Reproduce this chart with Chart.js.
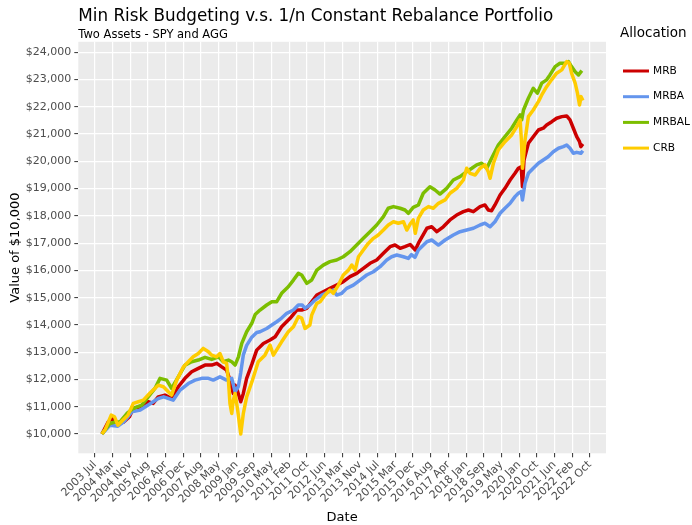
<!DOCTYPE html>
<html>
<head>
<meta charset="utf-8">
<title>Min Risk Budgeting v.s. 1/n Constant Rebalance Portfolio</title>
<script src="https://cdn.jsdelivr.net/npm/chart.js@4.4.1/dist/chart.umd.min.js"></script>
<style>
  html, body { margin: 0; padding: 0; background: #ffffff; }
  #wrap { width: 692px; height: 525px; }
</style>
</head>
<body>
<div id="wrap"><canvas id="portfolioChart" width="692" height="525"></canvas></div>
<script>
// --- data: [decimal year, value of $10,000] ---
const mrb = [
  [2003.81, 10000], [2004.05, 10440], [2004.20, 10570], [2004.43, 10385], [2004.66, 10440], [2004.88, 10630],
  [2005.03, 10940], [2005.30, 10995], [2005.61, 11180], [2005.80, 11120], [2006.00, 11360], [2006.26, 11425],
  [2006.52, 11300], [2006.78, 11730], [2007.04, 12040], [2007.30, 12280], [2007.56, 12405], [2007.82, 12525],
  [2008.08, 12525], [2008.28, 12590], [2008.47, 12460], [2008.66, 12340], [2008.79, 11975], [2008.92, 11485],
  [2008.99, 11790], [2009.07, 11610], [2009.21, 11180], [2009.31, 11485], [2009.44, 12040], [2009.64, 12550],
  [2009.83, 13075], [2010.09, 13320], [2010.35, 13445], [2010.55, 13565], [2010.80, 13930], [2011.13, 14240],
  [2011.39, 14545], [2011.58, 14545], [2011.78, 14610], [2011.97, 14850], [2012.17, 15095], [2012.42, 15215],
  [2012.68, 15340], [2012.94, 15460], [2013.20, 15585], [2013.46, 15770], [2013.72, 15890], [2013.98, 16075],
  [2014.24, 16260], [2014.50, 16380], [2014.76, 16625], [2015.02, 16870], [2015.21, 16930], [2015.41, 16810],
  [2015.60, 16870], [2015.80, 16950], [2016.00, 16750], [2016.15, 17050], [2016.45, 17545], [2016.64, 17600],
  [2016.84, 17420], [2017.09, 17600], [2017.35, 17850], [2017.61, 18030], [2017.87, 18155], [2018.07, 18215],
  [2018.26, 18155], [2018.52, 18340], [2018.71, 18400], [2018.84, 18215], [2018.97, 18190], [2019.10, 18400],
  [2019.30, 18765], [2019.49, 19010], [2019.69, 19315], [2019.88, 19560], [2020.01, 19745], [2020.12, 19800],
  [2020.17, 19070], [2020.23, 20050], [2020.40, 20665], [2020.59, 20905], [2020.79, 21150], [2020.98, 21215],
  [2021.11, 21335], [2021.31, 21455], [2021.50, 21580], [2021.70, 21640], [2021.89, 21665], [2022.02, 21520],
  [2022.15, 21215], [2022.28, 20905], [2022.39, 20720], [2022.44, 20540], [2022.52, 20640]
];

const mrba = [
  [2003.81, 10000], [2004.12, 10320], [2004.43, 10285], [2004.66, 10440], [2004.97, 10810], [2005.30, 10875],
  [2005.61, 11060], [2006.00, 11300], [2006.21, 11360], [2006.58, 11240], [2006.85, 11610], [2007.17, 11850],
  [2007.43, 11975], [2007.69, 12040], [2007.95, 12040], [2008.14, 11975], [2008.40, 12095], [2008.66, 11975],
  [2008.86, 12040], [2008.99, 11545], [2009.12, 11750], [2009.21, 12250], [2009.31, 12900], [2009.44, 13250],
  [2009.64, 13550], [2009.83, 13720], [2009.96, 13750], [2010.22, 13870], [2010.42, 13995], [2010.61, 14115],
  [2010.80, 14250], [2011.00, 14425], [2011.26, 14545], [2011.45, 14730], [2011.60, 14730], [2011.71, 14610],
  [2011.90, 14730], [2012.10, 14910], [2012.36, 15095], [2012.60, 15200], [2012.81, 15280], [2012.94, 15095],
  [2013.14, 15160], [2013.33, 15340], [2013.59, 15460], [2013.85, 15645], [2014.11, 15830], [2014.37, 15950],
  [2014.63, 16135], [2014.89, 16380], [2015.08, 16500], [2015.28, 16565], [2015.54, 16500], [2015.73, 16440],
  [2015.85, 16580], [2015.99, 16480], [2016.12, 16745], [2016.45, 17050], [2016.64, 17115], [2016.90, 16930],
  [2017.16, 17115], [2017.48, 17300], [2017.74, 17420], [2018.00, 17480], [2018.26, 17545], [2018.52, 17665],
  [2018.71, 17730], [2018.91, 17600], [2019.10, 17785], [2019.30, 18095], [2019.49, 18280], [2019.69, 18460],
  [2019.88, 18705], [2020.01, 18830], [2020.12, 18890], [2020.17, 18585], [2020.27, 19195], [2020.40, 19560],
  [2020.59, 19745], [2020.79, 19930], [2020.98, 20050], [2021.17, 20170], [2021.37, 20355], [2021.57, 20480],
  [2021.76, 20540], [2021.89, 20600], [2022.02, 20480], [2022.15, 20295], [2022.28, 20330], [2022.44, 20295],
  [2022.52, 20390]
];

const mrbal = [
  [2003.81, 10000], [2004.12, 10385], [2004.32, 10440], [2004.51, 10440], [2004.78, 10750], [2005.03, 10935],
  [2005.36, 11060], [2005.61, 11360], [2005.87, 11670], [2006.07, 12040], [2006.33, 11975], [2006.52, 11670],
  [2006.78, 12095], [2007.04, 12525], [2007.30, 12650], [2007.56, 12710], [2007.82, 12810], [2008.08, 12735],
  [2008.34, 12830], [2008.53, 12650], [2008.73, 12710], [2008.86, 12650], [2008.99, 12525], [2009.12, 12830],
  [2009.25, 13320], [2009.44, 13750], [2009.64, 14060], [2009.77, 14380], [2009.96, 14545], [2010.22, 14730],
  [2010.42, 14850], [2010.61, 14850], [2010.80, 15160], [2011.06, 15400], [2011.26, 15645], [2011.45, 15890],
  [2011.58, 15830], [2011.78, 15525], [2011.97, 15645], [2012.17, 16010], [2012.42, 16195], [2012.68, 16320],
  [2012.94, 16380], [2013.20, 16500], [2013.46, 16685], [2013.72, 16930], [2013.98, 17175], [2014.24, 17420],
  [2014.50, 17665], [2014.76, 17970], [2014.95, 18280], [2015.15, 18340], [2015.41, 18280], [2015.60, 18215],
  [2015.73, 18095], [2015.92, 18310], [2016.12, 18400], [2016.31, 18830], [2016.57, 19070], [2016.77, 18950],
  [2016.96, 18800], [2017.22, 19010], [2017.48, 19315], [2017.74, 19440], [2018.00, 19620], [2018.20, 19745],
  [2018.39, 19870], [2018.58, 19930], [2018.78, 19745], [2018.97, 20115], [2019.23, 20600], [2019.49, 20905],
  [2019.75, 21215], [2019.95, 21520], [2020.08, 21705], [2020.14, 21520], [2020.21, 21885], [2020.40, 22315],
  [2020.59, 22680], [2020.75, 22500], [2020.92, 22870], [2021.11, 22990], [2021.24, 23170], [2021.44, 23475],
  [2021.63, 23600], [2021.83, 23600], [2021.96, 23660], [2022.08, 23475], [2022.22, 23290], [2022.35, 23170],
  [2022.48, 23330]
];

const crb = [
  [2003.81, 10000], [2003.93, 10150], [2004.17, 10690], [2004.30, 10630], [2004.43, 10320], [2004.62, 10505],
  [2004.82, 10690], [2005.03, 11120], [2005.23, 11180], [2005.42, 11240], [2005.68, 11500], [2006.00, 11790],
  [2006.20, 11730], [2006.39, 11545], [2006.52, 11425], [2006.72, 11975], [2006.98, 12460], [2007.17, 12650],
  [2007.36, 12830], [2007.56, 12950], [2007.75, 13140], [2007.95, 13015], [2008.08, 12890], [2008.27, 12830],
  [2008.40, 12950], [2008.53, 12650], [2008.66, 12590], [2008.73, 11975], [2008.79, 11120], [2008.86, 10750],
  [2008.92, 11240], [2008.99, 11485], [2009.09, 10875], [2009.21, 10000], [2009.31, 10750], [2009.44, 11360],
  [2009.64, 11900], [2009.89, 12650], [2010.15, 12890], [2010.35, 13260], [2010.48, 12890], [2010.80, 13380],
  [2011.06, 13750], [2011.26, 13930], [2011.45, 14300], [2011.58, 14250], [2011.71, 13870], [2011.90, 13995],
  [2011.97, 14360], [2012.17, 14790], [2012.30, 14850], [2012.49, 15095], [2012.68, 15280], [2012.81, 15160],
  [2013.01, 15460], [2013.20, 15830], [2013.40, 16010], [2013.53, 16195], [2013.66, 16010], [2013.79, 16500],
  [2013.98, 16745], [2014.17, 16990], [2014.37, 17175], [2014.56, 17300], [2014.76, 17480], [2014.95, 17665],
  [2015.15, 17785], [2015.34, 17730], [2015.54, 17785], [2015.67, 17480], [2015.80, 17700], [2015.92, 17850],
  [2016.00, 17360], [2016.12, 17910], [2016.31, 18215], [2016.51, 18340], [2016.70, 18280], [2016.90, 18460],
  [2017.16, 18585], [2017.35, 18830], [2017.61, 19010], [2017.87, 19315], [2018.00, 19745], [2018.13, 19560],
  [2018.33, 19500], [2018.52, 19745], [2018.71, 19870], [2018.84, 19620], [2018.91, 19380], [2019.04, 19930],
  [2019.23, 20420], [2019.49, 20720], [2019.75, 20970], [2019.95, 21275], [2020.08, 21520], [2020.12, 20905],
  [2020.17, 19745], [2020.27, 20785], [2020.40, 21640], [2020.59, 21885], [2020.79, 22190], [2020.92, 22435],
  [2021.11, 22740], [2021.30, 22990], [2021.50, 23235], [2021.70, 23355], [2021.89, 23660], [2021.99, 23600],
  [2022.08, 23235], [2022.22, 22870], [2022.31, 22500], [2022.39, 22070], [2022.45, 22375], [2022.52, 22230]
];

const seriesNames = ["MRB", "MRBA", "MRBAL", "CRB"];
const seriesColors = ["#CC0000", "#6495ED", "#7CBE00", "#FFCC00"];

// x ticks are evenly spaced dates (every ~251 days) starting 2003 Jul
const xTickLabels = [
  "2003 Jul", "2004 Mar", "2004 Nov", "2005 Aug", "2006 Apr", "2006 Dec", "2007 Aug", "2008 May",
  "2009 Jan", "2009 Sep", "2010 May", "2011 Feb", "2011 Oct", "2012 Jun", "2013 Mar", "2013 Nov",
  "2014 Jul", "2015 Mar", "2015 Dec", "2016 Aug", "2017 Apr", "2018 Jan", "2018 Sep", "2019 May",
  "2020 Jan", "2020 Oct", "2021 Jun", "2022 Feb", "2022 Oct"
];
const xTickStart = 2003.54;
const xTickStep = 0.6875;
const yTickValues = [10000, 11000, 12000, 13000, 14000, 15000, 16000, 17000, 18000, 19000, 20000, 21000, 22000, 23000, 24000];

const FONT = "'DejaVu Sans', Verdana, sans-serif";

// grey panel behind the plot, ggplot style
const panelBackground = {
  id: "panelBackground",
  beforeDraw(chart) {
    const { ctx, chartArea: a } = chart;
    ctx.save();
    ctx.fillStyle = "#EBEBEB";
    ctx.fillRect(a.left, a.top, a.right - a.left, a.bottom - a.top);
    ctx.restore();
  },
};

// legend on the right with a title, drawn by hand so it sits where the original does
const sideLegend = {
  id: "sideLegend",
  afterDraw(chart) {
    const ctx = chart.ctx;
    ctx.save();
    ctx.textBaseline = "middle";
    ctx.textAlign = "left";
    ctx.fillStyle = "#000000";
    ctx.font = "13.5px " + FONT;
    ctx.fillText("Allocation", 620, 33);

    ctx.font = "10.6px " + FONT;
    chart.data.datasets.forEach((ds, i) => {
      const y = 71 + i * 25.7;
      ctx.strokeStyle = ds.borderColor;
      ctx.lineWidth = 3;
      ctx.beginPath();
      ctx.moveTo(623, y);
      ctx.lineTo(649, y);
      ctx.stroke();
      ctx.fillStyle = "#000000";
      ctx.fillText(ds.label, 653, y);
    });
    ctx.restore();
  },
};

const seriesData = [mrb, mrba, mrbal, crb];

const ctx = document.getElementById("portfolioChart").getContext("2d");

const chart = new Chart(ctx, {
  type: "line",
  data: {
    datasets: seriesData.map((rows, i) => ({
      label: seriesNames[i],
      data: rows.map((r) => ({ x: r[0], y: r[1] })),
      borderColor: seriesColors[i],
      backgroundColor: seriesColors[i],
      borderWidth: 3.5,
      pointRadius: 0,
      tension: 0,
      borderJoinStyle: "round",
      order: seriesData.length - 1 - i, // last series drawn on top, like ggplot
    })),
  },
  options: {
    responsive: false,
    animation: false,
    devicePixelRatio: 1,
    layout: { padding: { left: 0, right: 86, top: 0, bottom: 0 } },
    plugins: {
      legend: { display: false },
      tooltip: { enabled: false },
      title: {
        display: true,
        text: "Min Risk Budgeting v.s. 1/n Constant Rebalance Portfolio",
        align: "start",
        fullSize: false,
        color: "#000000",
        font: { family: FONT, size: 16.8, weight: "normal", lineHeight: 1.2 },
        padding: { top: 7, bottom: 0 },
      },
      subtitle: {
        display: true,
        text: "Two Assets - SPY and AGG",
        align: "start",
        fullSize: false,
        color: "#000000",
        font: { family: FONT, size: 11.5, weight: "normal", lineHeight: 1.1 },
        padding: { top: 2, bottom: 0 },
      },
    },
    scales: {
      x: {
        type: "linear",
        min: 2002.89,
        max: 2023.42,
        afterBuildTicks: (scale) => {
          scale.ticks = xTickLabels.map((_, i) => ({ value: xTickStart + i * xTickStep }));
        },
        afterFit: (scale) => {
          scale.height = 71.7;
        },
        ticks: {
          autoSkip: false,
          maxRotation: 45,
          minRotation: 45,
          padding: 1,
          color: "#4D4D4D",
          font: { family: FONT, size: 11 },
          callback: (value, index) => xTickLabels[index],
        },
        grid: {
          color: "#FFFFFF",
          lineWidth: 1.2,
          tickColor: "#333333",
          tickLength: 4,
          tickWidth: 1,
        },
        border: { display: false },
        title: {
          display: true,
          text: "Date",
          color: "#000000",
          font: { family: FONT, size: 13, lineHeight: 1 },
          padding: { top: 0, bottom: 0.5 },
        },
      },
      y: {
        type: "linear",
        min: 9290,
        max: 24385,
        afterBuildTicks: (scale) => {
          scale.ticks = yTickValues.map((v) => ({ value: v }));
        },
        afterFit: (scale) => {
          scale.width = 78.3;
        },
        ticks: {
          padding: 3,
          color: "#4D4D4D",
          font: { family: FONT, size: 11 },
          callback: (value) => "$" + value.toLocaleString("en-US"),
        },
        grid: {
          color: "#FFFFFF",
          lineWidth: 1.2,
          tickColor: "#333333",
          tickLength: 4,
          tickWidth: 1,
        },
        border: { display: false },
        title: {
          display: true,
          text: "Value of $10,000",
          color: "#000000",
          font: { family: FONT, size: 13, lineHeight: 1 },
          padding: { top: 9.5, bottom: 0 },
        },
      },
    },
  },
  plugins: [panelBackground, sideLegend],
});
</script>
</body>
</html>
